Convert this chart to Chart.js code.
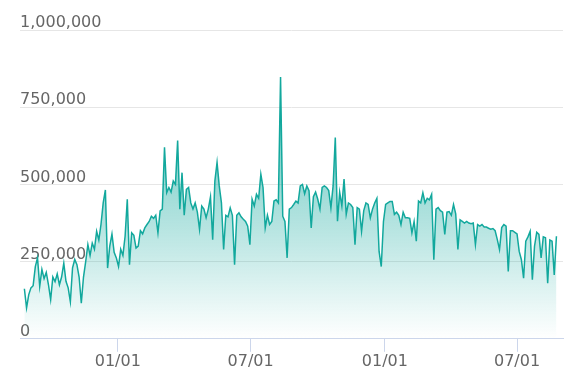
<!DOCTYPE html>
<html><head><meta charset="utf-8">
<script src="https://cdn.jsdelivr.net/npm/chart.js@4"></script>
<style>html,body{margin:0;padding:0;background:#fff}#wrap{width:574px;height:388px;position:relative}</style>
</head><body><div id="wrap"><canvas id="c" width="574" height="388"></canvas></div>
<script>
// Daily series sampled every 3 days, values in thousands
const startDate = '2019-08-26';
const stepDays = 3;
const valuesK = [
162,100,143,165,172,234,262,170,225,195,
215,175,127,200,185,210,175,200,245,186,
165,120,230,257,240,200,115,200,250,305,
270,310,290,348,320,371,440,482,229,300,
339,280,262,234,290,270,332,452,240,343,
335,294,300,350,340,359,370,380,397,390,
400,343,414,420,620,473,490,475,511,500,
642,420,538,400,484,490,440,420,440,410,
354,430,420,392,420,460,321,511,571,495,
440,289,400,395,424,400,240,400,408,395,
387,380,365,305,452,430,468,455,533,490,
359,400,370,380,446,450,440,848,397,380,
262,420,425,435,446,440,495,500,470,495,
480,359,460,475,452,420,490,495,490,480,
424,495,652,381,475,430,517,403,440,435,
425,305,425,420,348,415,440,435,392,420,
440,455,283,234,380,435,440,445,445,403,
410,400,370,410,392,392,390,343,380,316,
446,440,473,440,455,450,468,256,420,425,
415,410,338,410,412,400,435,405,289,385,
380,375,380,375,373,375,305,370,365,370,
362,362,358,355,357,350,321,289,360,370,
365,218,350,350,345,340,283,256,196,316,
330,348,191,300,345,338,262,330,327,180,
320,316,207,332
];
const tickDates = ['2020-01-01','2020-07-01','2021-01-01','2021-07-01'];
const tickLabels = ['01/01','07/01','01/01','07/01'];
const xRange = ['2019-08-20','2021-09-02'];
const yMin = 0, yMax = 1000000, yStep = 250000;

const DAY = 86400000;
const dayNum = s => { const [y,m,d] = s.split('-').map(Number); return Date.UTC(y, m-1, d) / DAY; };
const start = dayNum(startDate);
const points = valuesK.map((v, i) => ({x: start + i * stepDays, y: v * 1000}));

const lineColor = '#12a89d';
const font = {family: '"DejaVu Sans", Verdana, sans-serif', size: 16};

new Chart(document.getElementById('c'), {
  type: 'line',
  data: {
    datasets: [{
      data: points,
      borderColor: lineColor,
      borderWidth: 1.5,
      pointRadius: 0,
      tension: 0,
      fill: 'origin',
      backgroundColor: ctx => {
        const ch = ctx.chart, a = ch.chartArea;
        if (!a) return 'rgba(0,0,0,0)';
        const g = ch.ctx.createLinearGradient(0, a.top, 0, a.bottom);
        g.addColorStop(0, 'rgba(18,168,157,0.85)');
        g.addColorStop(1, 'rgba(18,168,157,0.0)');
        return g;
      }
    }]
  },
  options: {
    responsive: false,
    animation: false,
    devicePixelRatio: 1,
    layout: {padding: {left: 20, right: 11, top: 30, bottom: 17}},
    plugins: {legend: {display: false}, tooltip: {enabled: false}},
    scales: {
      x: {
        type: 'linear',
        min: dayNum(xRange[0]),
        max: dayNum(xRange[1]),
        afterBuildTicks: s => { s.ticks = tickDates.map(d => ({value: dayNum(d)})); },
        grid: {display: true, drawOnChartArea: false, drawTicks: true, tickLength: 13, color: '#ccd6eb', lineWidth: 1},
        border: {display: true, color: '#ccd6eb', width: 1},
        ticks: {
          color: '#666666', font, padding: 0, maxRotation: 0, autoSkip: false,
          callback: (v, i) => tickLabels[i]
        }
      },
      y: {
        min: yMin, max: yMax,
        grid: {drawTicks: false, color: c => c.tick && c.tick.value === 0 ? 'rgba(0,0,0,0)' : '#e6e6e6', lineWidth: 1},
        border: {display: false},
        ticks: {
          stepSize: yStep, mirror: true, padding: 0, labelOffset: -7,
          color: '#666666', font,
          callback: v => v.toLocaleString('en-US')
        }
      }
    }
  }
});
</script>
</body></html>
